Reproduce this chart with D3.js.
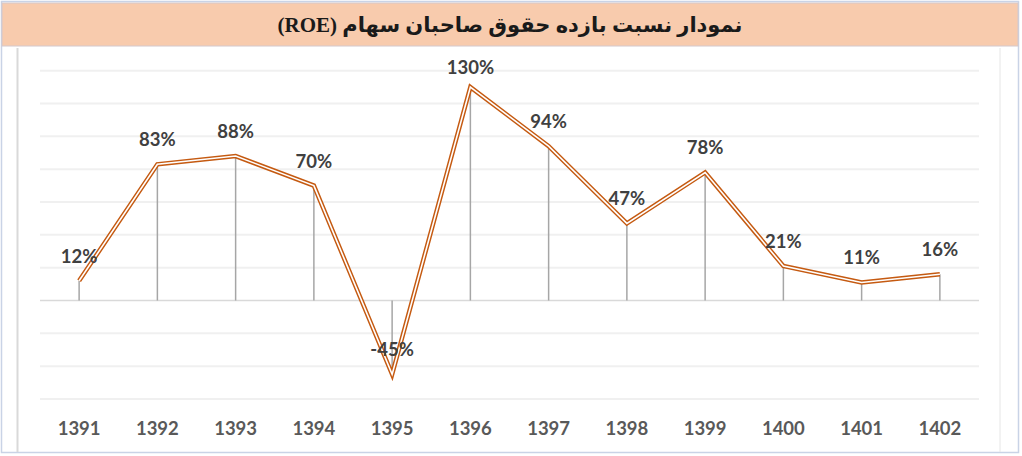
<!DOCTYPE html>
<html>
<head>
<meta charset="utf-8">
<script src="https://cdn.jsdelivr.net/npm/d3@7"></script>
<style>
  body { margin: 0; background: #fff; }
  svg { display: block; }
</style>
</head>
<body>
<div id="chart"></div>
<script>
// chart data
const years = ["1391", "1392", "1393", "1394", "1395", "1396", "1397", "1398", "1399", "1400", "1401", "1402"];
const roeValues = [12, 83, 88, 70, -45, 130, 94, 47, 78, 21, 11, 16];
const gridTicks = [-60, -40, -20, 0, 20, 40, 60, 80, 100, 120, 140];
const chartTitle = "نمودار نسبت بازده حقوق صاحبان سهام (ROE)";

const width = 1022, height = 456;

const svg = d3.select("#chart")
    .append("svg")
    .attr("width", width)
    .attr("height", height);

// outer frame
svg.append("rect")
    .attr("x", 1.5).attr("y", 1.5)
    .attr("width", 1017).attr("height", 451)
    .attr("fill", "#fff")
    .attr("stroke", "#C9D3E6")
    .attr("stroke-width", 1.5);

// title bar
svg.append("rect")
    .attr("x", 2).attr("y", 3)
    .attr("width", 1016).attr("height", 43)
    .attr("fill", "#F8CBAD")
    .attr("stroke", "#D4C8CC")
    .attr("stroke-width", 1);

svg.append("text")
    .attr("x", 510)
    .attr("y", 25)
    .attr("text-anchor", "middle")
    .attr("dominant-baseline", "central")
    .attr("direction", "rtl")
    .attr("font-family", "'Liberation Serif', 'DejaVu Sans', serif")
    .attr("font-weight", "bold")
    .attr("font-size", 21)
    .attr("fill", "#1a1a1a")
    .text(chartTitle);

// plot panel
svg.append("line")
    .attr("x1", 17.5).attr("x2", 17.5)
    .attr("y1", 48).attr("y2", 452)
    .attr("stroke", "#D9D9D9").attr("stroke-width", 2);
svg.append("line")
    .attr("x1", 1000).attr("x2", 1000)
    .attr("y1", 48).attr("y2", 452)
    .attr("stroke", "#E6E6E6").attr("stroke-width", 1);

const x = d3.scaleBand()
    .domain(years)
    .range([40, 979]);

const y = d3.scaleLinear()
    .domain([-60, 140])
    .range([399, 70.7]);

// gridlines
svg.append("g")
    .selectAll("line")
    .data(gridTicks)
    .join("line")
    .attr("x1", 40).attr("x2", 979)
    .attr("y1", d => y(d)).attr("y2", d => y(d))
    .attr("stroke", d => d === 0 ? "#D9D9D9" : "#F0F0F0")
    .attr("stroke-width", d => d === 0 ? 1.5 : 2);

const points = years.map((yr, i) => ({ year: yr, value: roeValues[i] }));
const cx = d => x(d.year) + x.bandwidth() / 2;

// drop lines
svg.append("g")
    .selectAll("line")
    .data(points)
    .join("line")
    .attr("x1", cx).attr("x2", cx)
    .attr("y1", y(0)).attr("y2", d => y(d.value))
    .attr("stroke", "#A6A6A6")
    .attr("stroke-width", 1.5);

// double line
const line = d3.line()
    .x(cx)
    .y(d => y(d.value));

svg.append("path")
    .datum(points)
    .attr("d", line)
    .attr("fill", "none")
    .attr("stroke", "#C55A11")
    .attr("stroke-width", 4.5)
    .attr("stroke-linejoin", "miter");

svg.append("path")
    .datum(points)
    .attr("d", line)
    .attr("fill", "none")
    .attr("stroke", "#fff")
    .attr("stroke-width", 1.6)
    .attr("stroke-linejoin", "miter");

// data labels
svg.append("g")
    .selectAll("text")
    .data(points)
    .join("text")
    .attr("x", cx)
    .attr("y", d => Math.max(y(d.value) - 25, 67))
    .attr("text-anchor", "middle")
    .attr("dominant-baseline", "central")
    .attr("font-family", "Lato, 'Open Sans', sans-serif")
    .attr("font-weight", "bold")
    .attr("font-size", 18.5)
    .attr("fill", "#404040")
    .text(d => d.value + "%");

// category labels
svg.append("g")
    .selectAll("text")
    .data(years)
    .join("text")
    .attr("x", d => x(d) + x.bandwidth() / 2)
    .attr("y", 428)
    .attr("text-anchor", "middle")
    .attr("dominant-baseline", "central")
    .attr("font-family", "Lato, 'Open Sans', sans-serif")
    .attr("font-weight", "bold")
    .attr("font-size", 18.5)
    .attr("fill", "#595959")
    .text(d => d);
</script>
</body>
</html>
